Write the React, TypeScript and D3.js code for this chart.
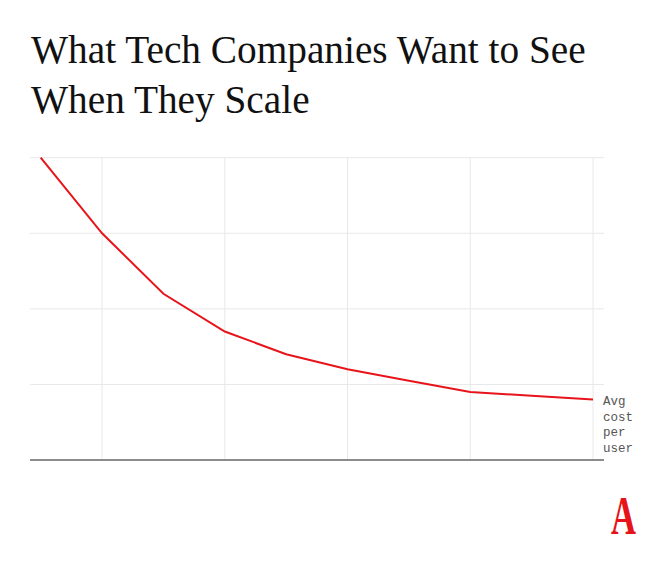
import React from 'react';
import * as d3 from 'd3';

// Users scale (index) vs average cost per user
const steps = [0, 1, 2, 3, 4, 5, 6, 7, 8, 9];
const avgCost = [4.0, 3.0, 2.2, 1.7, 1.4, 1.2, 1.05, 0.9, 0.85, 0.8];
const yTicks = [1, 2, 3, 4];
const xTicks = [1, 3, 5, 7, 9];
const titleLines = ['What Tech Companies Want to See', 'When They Scale'];
const labelLines = ['Avg', 'cost', 'per', 'user'];

const width = 665;
const height = 568;

const App: React.FC = () => {
  const x = d3.scaleLinear().domain([0, 9]).range([40.7, 593]);
  const y = d3.scaleLinear().domain([0, 4]).range([460, 157.7]);

  const line = d3.line<number>()
    .x((_, i) => x(steps[i]))
    .y(d => y(d));

  const left = 30;
  const right = 604;

  return (
    <svg
      width={width}
      height={height}
      style={{ position: 'absolute', left: 0, top: 0, background: '#fff' }}
    >
      {/* Titel */}
      <g fontFamily="'Liberation Serif', 'DejaVu Serif', serif" fontSize={39.3} fill="#111">
        {titleLines.map((t, i) => (
          <text key={t} x={31} y={63 + i * 50}>{t}</text>
        ))}
      </g>

      {/* Gitter */}
      <g stroke="#e8e8e8" strokeWidth={1}>
        {yTicks.map(t => (
          <line key={'h' + t} x1={left} x2={right} y1={y(t)} y2={y(t)} />
        ))}
        {xTicks.map(t => (
          <line key={'v' + t} x1={x(t)} x2={x(t)} y1={y(4)} y2={y(0)} />
        ))}
      </g>

      {/* Basislinie */}
      <line x1={left} x2={right} y1={y(0)} y2={y(0)} stroke="#666" strokeWidth={1.5} />

      <path d={line(avgCost) || ''} fill="none" stroke="#e8141b" strokeWidth={2} />

      <g fontFamily="'Liberation Mono', 'DejaVu Sans Mono', monospace" fontSize={12.5} fill="#555">
        {labelLines.map((t, i) => (
          <text key={t} x={603} y={405 + i * 15.7}>{t}</text>
        ))}
      </g>

      {/* Logo */}
      <text
        transform="translate(611,534) scale(0.64,1)"
        fontFamily="'Liberation Serif', serif"
        fontWeight="bold"
        fontSize={54}
        fill="#e7131a"
      >A</text>
    </svg>
  );
};

export default App;
